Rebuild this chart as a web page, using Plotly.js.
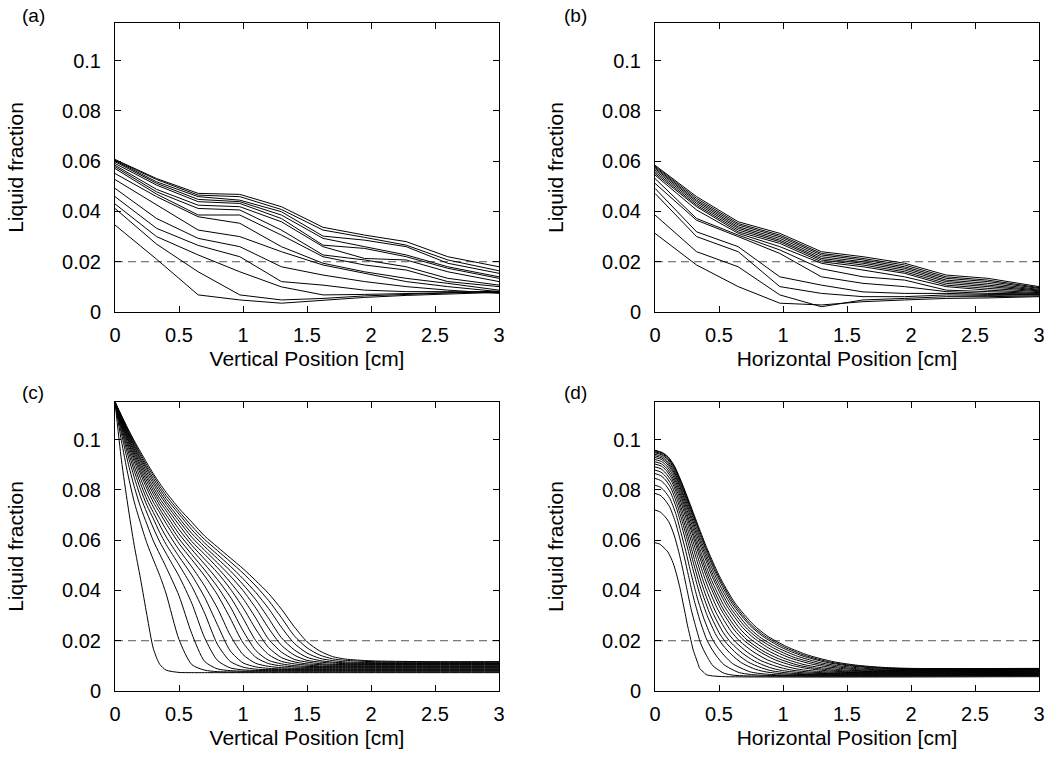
<!DOCTYPE html>
<html>
<head>
<meta charset="utf-8">
<script src="https://cdn.plot.ly/plotly-3.0.1.min.js"></script>
<style>html,body{margin:0;padding:0;background:#fff}#chart{width:1053px;height:763px}</style>
</head>
<body>
<div id="chart"></div>
<script>
// ---------- data ----------
var PANEL_LABELS = ['(a)', '(b)', '(c)', '(d)'];
var X_TITLES = ['Vertical Position [cm]', 'Horizontal Position [cm]', 'Vertical Position [cm]', 'Horizontal Position [cm]'];
var Y_TITLE = 'Liquid fraction';
var X_TICKS = [0, 0.5, 1, 1.5, 2, 2.5, 3];
var X_TICK_LABELS = ['0', '0.5', '1', '1.5', '2', '2.5', '3'];
var Y_TICKS = [0, 0.02, 0.04, 0.06, 0.08, 0.1];
var Y_TICK_LABELS = ['0', '0.02', '0.04', '0.06', '0.08', '0.1'];
var THRESHOLD = 0.02;

// measured profiles (a) vertical, (b) horizontal
var X_AB = [0, 0.325, 0.65, 0.975, 1.3, 1.625, 1.95, 2.275, 2.6, 3.0];
var A1 = [0.0607, 0.0531, 0.0472, 0.0468, 0.0419, 0.0337, 0.0306, 0.0280, 0.0220, 0.0180];
var A2 = [0.0604, 0.0527, 0.0465, 0.0459, 0.0408, 0.0326, 0.0297, 0.0266, 0.0207, 0.0164];
var A3 = [0.0602, 0.0518, 0.0459, 0.0445, 0.0399, 0.0302, 0.0286, 0.0260, 0.0194, 0.0154];
var A4 = [0.0598, 0.0512, 0.0448, 0.0439, 0.0386, 0.0293, 0.0260, 0.0227, 0.0180, 0.0140];
var A5 = [0.0591, 0.0505, 0.0439, 0.0432, 0.0372, 0.0266, 0.0253, 0.0220, 0.0174, 0.0134];
var A6 = [0.0584, 0.0488, 0.0425, 0.0419, 0.0359, 0.0260, 0.0213, 0.0207, 0.0160, 0.0121];
var A7 = [0.0578, 0.0478, 0.0412, 0.0406, 0.0326, 0.0227, 0.0207, 0.0180, 0.0134, 0.0107];
var A8 = [0.0571, 0.0469, 0.0386, 0.0386, 0.0306, 0.0220, 0.0187, 0.0167, 0.0121, 0.0101];
var A9 = [0.0551, 0.0459, 0.0379, 0.0353, 0.0260, 0.0194, 0.0160, 0.0134, 0.0114, 0.0087];
var A10 = [0.0527, 0.0425, 0.0326, 0.0300, 0.0240, 0.0187, 0.0154, 0.0121, 0.0101, 0.0081];
var A11 = [0.0492, 0.0372, 0.0293, 0.0260, 0.0180, 0.0147, 0.0121, 0.0101, 0.0087, 0.0074];
var A12 = [0.0459, 0.0333, 0.0265, 0.0220, 0.0121, 0.0107, 0.0087, 0.0081, 0.0081, 0.0079];
var A13 = [0.0430, 0.0300, 0.0227, 0.0160, 0.0100, 0.0068, 0.0070, 0.0074, 0.0077, 0.0081];
var A14 = [0.0412, 0.0270, 0.0160, 0.0068, 0.0048, 0.0054, 0.0064, 0.0070, 0.0075, 0.0083];
var A15 = [0.0346, 0.0210, 0.0068, 0.0048, 0.0035, 0.0048, 0.0058, 0.0066, 0.0072, 0.0078];

var B1 = [0.0584, 0.0459, 0.0359, 0.0313, 0.0240, 0.0220, 0.0194, 0.0147, 0.0134, 0.0101];
var B2 = [0.0580, 0.0452, 0.0352, 0.0306, 0.0233, 0.0213, 0.0187, 0.0140, 0.0127, 0.0097];
var B3 = [0.0576, 0.0445, 0.0346, 0.0300, 0.0227, 0.0207, 0.0180, 0.0134, 0.0121, 0.0094];
var B4 = [0.0571, 0.0439, 0.0339, 0.0293, 0.0220, 0.0200, 0.0174, 0.0127, 0.0114, 0.0090];
var B5 = [0.0565, 0.0432, 0.0333, 0.0286, 0.0213, 0.0194, 0.0167, 0.0121, 0.0107, 0.0087];
var B6 = [0.0558, 0.0425, 0.0326, 0.0280, 0.0207, 0.0187, 0.0160, 0.0114, 0.0101, 0.0084];
var B7 = [0.0551, 0.0419, 0.0319, 0.0273, 0.0200, 0.0180, 0.0154, 0.0107, 0.0094, 0.0081];
var B8 = [0.0545, 0.0406, 0.0313, 0.0260, 0.0194, 0.0167, 0.0140, 0.0101, 0.0087, 0.0077];
var B9 = [0.0531, 0.0372, 0.0306, 0.0247, 0.0172, 0.0140, 0.0127, 0.0087, 0.0081, 0.0074];
var B10 = [0.0512, 0.0365, 0.0300, 0.0233, 0.0140, 0.0114, 0.0101, 0.0081, 0.0074, 0.0072];
var B11 = [0.0492, 0.0319, 0.0260, 0.0140, 0.0107, 0.0080, 0.0074, 0.0074, 0.0070, 0.0070];
var B12 = [0.0472, 0.0300, 0.0240, 0.0101, 0.0074, 0.0061, 0.0061, 0.0068, 0.0066, 0.0068];
var B13 = [0.0386, 0.0240, 0.0180, 0.0068, 0.0021, 0.0048, 0.0054, 0.0061, 0.0061, 0.0064];
var B14 = [0.0313, 0.0187, 0.0101, 0.0035, 0.0028, 0.0041, 0.0048, 0.0054, 0.0056, 0.0061];

// simulated profiles (c) vertical
var X_C = [0, 0.05, 0.1, 0.15, 0.2, 0.25, 0.3, 0.35, 0.4, 0.5, 0.6, 0.7, 0.8, 0.9, 1.0, 1.1, 1.2, 1.3, 1.4, 1.5, 1.6, 1.7, 1.8, 2.0, 2.4, 3.0];
var C1 = [0.115, 0.092, 0.074, 0.058, 0.0445, 0.030, 0.0168, 0.0106, 0.0083, 0.0074, 0.0073, 0.0073, 0.0073, 0.0073, 0.0073, 0.0073, 0.0073, 0.0073, 0.0073, 0.0073, 0.0073, 0.0073, 0.0073, 0.0073, 0.0073, 0.0073];
var C2 = [0.115, 0.0996, 0.0864, 0.0753, 0.0667, 0.0587, 0.0522, 0.0459, 0.0386, 0.0205, 0.0105, 0.0083, 0.0077, 0.0076, 0.0076, 0.0076, 0.0076, 0.0076, 0.0076, 0.0076, 0.0076, 0.0076, 0.0076, 0.0076, 0.0076, 0.0076];
var C3 = [0.115, 0.1025, 0.0912, 0.0814, 0.0731, 0.0663, 0.0597, 0.0544, 0.0492, 0.0379, 0.0228, 0.0118, 0.0088, 0.0081, 0.0079, 0.0079, 0.0079, 0.0079, 0.0079, 0.0079, 0.0079, 0.0079, 0.0079, 0.0079, 0.0079, 0.0079];
var C4 = [0.115, 0.1040, 0.0940, 0.0851, 0.0772, 0.0708, 0.0648, 0.0593, 0.0547, 0.0457, 0.0349, 0.0212, 0.0122, 0.0092, 0.0084, 0.0082, 0.0082, 0.0082, 0.0082, 0.0082, 0.0082, 0.0082, 0.0082, 0.0082, 0.0082, 0.0082];
var C5 = [0.115, 0.1051, 0.0959, 0.0876, 0.0802, 0.0738, 0.0685, 0.0630, 0.0583, 0.0502, 0.0416, 0.0310, 0.0186, 0.0118, 0.0095, 0.0087, 0.0085, 0.0085, 0.0085, 0.0085, 0.0085, 0.0085, 0.0085, 0.0085, 0.0085, 0.0085];
var C6 = [0.115, 0.1059, 0.0974, 0.0895, 0.0825, 0.0761, 0.0710, 0.0660, 0.0613, 0.0535, 0.0461, 0.0373, 0.0264, 0.0160, 0.0112, 0.0096, 0.0090, 0.0088, 0.0088, 0.0088, 0.0088, 0.0088, 0.0088, 0.0088, 0.0088, 0.0088];
var C7 = [0.115, 0.1064, 0.0985, 0.0913, 0.0845, 0.0783, 0.0732, 0.0686, 0.0641, 0.0562, 0.0494, 0.0418, 0.0330, 0.0222, 0.0145, 0.0110, 0.0098, 0.0093, 0.0091, 0.0091, 0.0091, 0.0091, 0.0091, 0.0091, 0.0091, 0.0091];
var C8 = [0.115, 0.1070, 0.0996, 0.0926, 0.0863, 0.0804, 0.0751, 0.0709, 0.0666, 0.0587, 0.0523, 0.0458, 0.0383, 0.0290, 0.0192, 0.0134, 0.0109, 0.0100, 0.0096, 0.0094, 0.0094, 0.0094, 0.0094, 0.0094, 0.0094, 0.0094];
var C9 = [0.115, 0.1074, 0.1003, 0.0937, 0.0876, 0.0819, 0.0768, 0.0724, 0.0684, 0.0606, 0.0543, 0.0482, 0.0415, 0.0336, 0.0240, 0.0161, 0.0122, 0.0108, 0.0101, 0.0098, 0.0097, 0.0097, 0.0097, 0.0097, 0.0097, 0.0097];
var C10 = [0.115, 0.1078, 0.1010, 0.0947, 0.0888, 0.0833, 0.0784, 0.0739, 0.0701, 0.0625, 0.0563, 0.0505, 0.0444, 0.0375, 0.0290, 0.0200, 0.0145, 0.0118, 0.0108, 0.0103, 0.0100, 0.0100, 0.0100, 0.0100, 0.0100, 0.0100];
var C11 = [0.115, 0.1081, 0.1017, 0.0956, 0.0899, 0.0846, 0.0797, 0.0753, 0.0717, 0.0643, 0.0580, 0.0525, 0.0471, 0.0407, 0.0332, 0.0246, 0.0173, 0.0133, 0.0116, 0.0108, 0.0105, 0.0103, 0.0103, 0.0103, 0.0103, 0.0103];
var C12 = [0.115, 0.1084, 0.1023, 0.0964, 0.0910, 0.0857, 0.0810, 0.0766, 0.0730, 0.0661, 0.0595, 0.0544, 0.0491, 0.0433, 0.0368, 0.0290, 0.0206, 0.0155, 0.0126, 0.0115, 0.0109, 0.0106, 0.0105, 0.0105, 0.0105, 0.0105];
var C13 = [0.115, 0.1087, 0.1028, 0.0972, 0.0919, 0.0869, 0.0823, 0.0780, 0.0743, 0.0676, 0.0612, 0.0560, 0.0510, 0.0458, 0.0400, 0.0330, 0.0250, 0.0182, 0.0143, 0.0122, 0.0115, 0.0111, 0.0109, 0.0108, 0.0108, 0.0108];
var C14 = [0.115, 0.1090, 0.1032, 0.0978, 0.0926, 0.0880, 0.0834, 0.0792, 0.0754, 0.0689, 0.0627, 0.0575, 0.0527, 0.0479, 0.0424, 0.0363, 0.0289, 0.0212, 0.0164, 0.0134, 0.0121, 0.0115, 0.0112, 0.0110, 0.0110, 0.0110];
var C15 = [0.115, 0.1093, 0.1037, 0.0985, 0.0935, 0.0888, 0.0845, 0.0804, 0.0766, 0.0704, 0.0642, 0.0589, 0.0543, 0.0497, 0.0447, 0.0392, 0.0328, 0.0254, 0.0190, 0.0151, 0.0130, 0.0121, 0.0116, 0.0113, 0.0112, 0.0112];
var C16 = [0.115, 0.1095, 0.1041, 0.0991, 0.0943, 0.0897, 0.0856, 0.0815, 0.0778, 0.0715, 0.0656, 0.0603, 0.0559, 0.0515, 0.0469, 0.0418, 0.0360, 0.0292, 0.0220, 0.0172, 0.0143, 0.0128, 0.0122, 0.0117, 0.0115, 0.0115];
var C17 = [0.115, 0.1097, 0.1045, 0.0996, 0.0951, 0.0907, 0.0864, 0.0826, 0.0790, 0.0727, 0.0672, 0.0617, 0.0573, 0.0530, 0.0487, 0.0439, 0.0388, 0.0326, 0.0256, 0.0196, 0.0159, 0.0137, 0.0127, 0.0120, 0.0117, 0.0117];

// simulated profiles (d) horizontal: one x/y pair of arrays per curve
var D1X = [0, 0.035, 0.062, 0.101, 0.141, 0.172, 0.198, 0.219, 0.240, 0.250, 0.274, 0.298, 0.316, 0.335, 0.350, 0.384, 0.400, 0.450, 0.550, 3];
var D1Y = [0.0590, 0.0585, 0.0574, 0.0553, 0.0510, 0.0457, 0.0403, 0.0350, 0.0297, 0.0270, 0.0217, 0.0164, 0.0137, 0.0110, 0.0089, 0.0073, 0.0065, 0.0060, 0.0057, 0.0057];
var D2X = [0, 0.038, 0.067, 0.107, 0.149, 0.185, 0.215, 0.242, 0.269, 0.283, 0.317, 0.355, 0.384, 0.419, 0.453, 0.507, 0.542, 0.611, 0.726, 3];
var D2Y = [0.0720, 0.0713, 0.0700, 0.0674, 0.0621, 0.0555, 0.0489, 0.0423, 0.0357, 0.0324, 0.0258, 0.0192, 0.0159, 0.0126, 0.0100, 0.0080, 0.0070, 0.0063, 0.0060, 0.0060];
var D3X = [0, 0.040, 0.071, 0.112, 0.156, 0.195, 0.229, 0.261, 0.293, 0.311, 0.352, 0.402, 0.439, 0.488, 0.538, 0.609, 0.659, 0.744, 0.871, 3];
var D3Y = [0.0786, 0.0779, 0.0764, 0.0735, 0.0677, 0.0605, 0.0533, 0.0460, 0.0388, 0.0352, 0.0279, 0.0207, 0.0171, 0.0134, 0.0105, 0.0084, 0.0073, 0.0066, 0.0062, 0.0062];
var D4X = [0, 0.042, 0.074, 0.116, 0.162, 0.203, 0.241, 0.276, 0.313, 0.333, 0.380, 0.440, 0.484, 0.543, 0.606, 0.690, 0.752, 0.850, 0.987, 3];
var D4Y = [0.0819, 0.0811, 0.0796, 0.0766, 0.0706, 0.0630, 0.0555, 0.0479, 0.0404, 0.0366, 0.0291, 0.0215, 0.0177, 0.0140, 0.0109, 0.0087, 0.0075, 0.0068, 0.0064, 0.0064];
var D5X = [0, 0.043, 0.077, 0.120, 0.167, 0.212, 0.252, 0.291, 0.332, 0.354, 0.408, 0.478, 0.529, 0.599, 0.674, 0.771, 0.846, 0.957, 1.103, 3];
var D5Y = [0.0846, 0.0838, 0.0823, 0.0791, 0.0729, 0.0651, 0.0573, 0.0495, 0.0417, 0.0378, 0.0300, 0.0222, 0.0183, 0.0144, 0.0113, 0.0089, 0.0078, 0.0070, 0.0066, 0.0066];
var D6X = [0, 0.045, 0.080, 0.123, 0.171, 0.218, 0.261, 0.302, 0.346, 0.371, 0.429, 0.506, 0.562, 0.640, 0.725, 0.832, 0.916, 1.037, 1.190, 3];
var D6Y = [0.0865, 0.0857, 0.0841, 0.0809, 0.0745, 0.0666, 0.0586, 0.0506, 0.0427, 0.0387, 0.0307, 0.0227, 0.0188, 0.0148, 0.0116, 0.0092, 0.0080, 0.0072, 0.0068, 0.0068];
var D7X = [0, 0.046, 0.082, 0.126, 0.176, 0.224, 0.269, 0.313, 0.361, 0.387, 0.450, 0.534, 0.596, 0.682, 0.776, 0.893, 0.986, 1.117, 1.277, 3];
var D7Y = [0.0879, 0.0871, 0.0855, 0.0822, 0.0758, 0.0677, 0.0596, 0.0515, 0.0434, 0.0394, 0.0313, 0.0232, 0.0191, 0.0151, 0.0119, 0.0094, 0.0082, 0.0074, 0.0070, 0.0070];
var D8X = [0, 0.047, 0.084, 0.129, 0.180, 0.230, 0.278, 0.325, 0.375, 0.404, 0.471, 0.562, 0.629, 0.723, 0.827, 0.954, 1.056, 1.196, 1.364, 3];
var D8Y = [0.0892, 0.0884, 0.0867, 0.0835, 0.0769, 0.0687, 0.0605, 0.0523, 0.0441, 0.0400, 0.0318, 0.0236, 0.0195, 0.0154, 0.0121, 0.0097, 0.0084, 0.0076, 0.0072, 0.0072];
var D9X = [0, 0.049, 0.087, 0.131, 0.184, 0.237, 0.286, 0.336, 0.390, 0.420, 0.492, 0.591, 0.663, 0.765, 0.878, 1.015, 1.127, 1.276, 1.451, 3];
var D9Y = [0.0903, 0.0895, 0.0878, 0.0845, 0.0779, 0.0696, 0.0613, 0.0530, 0.0447, 0.0406, 0.0323, 0.0240, 0.0198, 0.0157, 0.0124, 0.0099, 0.0086, 0.0078, 0.0074, 0.0074];
var D10X = [0, 0.050, 0.089, 0.134, 0.188, 0.243, 0.295, 0.347, 0.404, 0.437, 0.513, 0.619, 0.696, 0.806, 0.929, 1.076, 1.197, 1.356, 1.538, 3];
var D10Y = [0.0912, 0.0904, 0.0887, 0.0853, 0.0787, 0.0703, 0.0619, 0.0536, 0.0452, 0.0410, 0.0327, 0.0243, 0.0201, 0.0160, 0.0126, 0.0101, 0.0089, 0.0080, 0.0076, 0.0076];
var D11X = [0, 0.051, 0.091, 0.136, 0.191, 0.247, 0.300, 0.355, 0.414, 0.448, 0.527, 0.638, 0.718, 0.834, 0.963, 1.117, 1.244, 1.409, 1.596, 3];
var D11Y = [0.0921, 0.0913, 0.0896, 0.0862, 0.0795, 0.0710, 0.0626, 0.0542, 0.0457, 0.0415, 0.0331, 0.0247, 0.0204, 0.0162, 0.0129, 0.0103, 0.0091, 0.0082, 0.0078, 0.0078];
var D12X = [0, 0.052, 0.093, 0.139, 0.194, 0.252, 0.307, 0.363, 0.425, 0.460, 0.544, 0.660, 0.745, 0.867, 1.003, 1.164, 1.299, 1.471, 1.664, 3];
var D12Y = [0.0929, 0.0921, 0.0904, 0.0870, 0.0802, 0.0717, 0.0632, 0.0547, 0.0462, 0.0420, 0.0335, 0.0250, 0.0207, 0.0165, 0.0131, 0.0105, 0.0093, 0.0084, 0.0080, 0.0080];
var D13X = [0, 0.053, 0.095, 0.141, 0.198, 0.257, 0.314, 0.373, 0.438, 0.475, 0.562, 0.684, 0.774, 0.902, 1.047, 1.217, 1.359, 1.541, 1.739, 3];
var D13Y = [0.0936, 0.0927, 0.0910, 0.0876, 0.0808, 0.0723, 0.0637, 0.0552, 0.0466, 0.0424, 0.0338, 0.0253, 0.0210, 0.0167, 0.0133, 0.0108, 0.0095, 0.0086, 0.0082, 0.0082];
var D14X = [0, 0.054, 0.096, 0.143, 0.200, 0.261, 0.320, 0.381, 0.447, 0.486, 0.576, 0.703, 0.796, 0.930, 1.081, 1.258, 1.406, 1.594, 1.797, 3];
var D14Y = [0.0942, 0.0933, 0.0916, 0.0882, 0.0813, 0.0728, 0.0642, 0.0556, 0.0470, 0.0427, 0.0341, 0.0256, 0.0213, 0.0170, 0.0135, 0.0110, 0.0097, 0.0088, 0.0084, 0.0084];
var D15X = [0, 0.055, 0.098, 0.145, 0.203, 0.266, 0.326, 0.388, 0.457, 0.497, 0.590, 0.722, 0.818, 0.958, 1.115, 1.298, 1.453, 1.647, 1.855, 3];
var D15Y = [0.0948, 0.0939, 0.0922, 0.0888, 0.0819, 0.0733, 0.0646, 0.0560, 0.0474, 0.0431, 0.0345, 0.0258, 0.0215, 0.0172, 0.0138, 0.0112, 0.0099, 0.0090, 0.0086, 0.0086];
var D16X = [0, 0.056, 0.100, 0.147, 0.206, 0.270, 0.332, 0.396, 0.467, 0.508, 0.604, 0.741, 0.841, 0.986, 1.149, 1.339, 1.500, 1.700, 1.913, 3];
var D16Y = [0.0952, 0.0943, 0.0926, 0.0892, 0.0822, 0.0736, 0.0650, 0.0563, 0.0477, 0.0434, 0.0347, 0.0261, 0.0218, 0.0174, 0.0140, 0.0114, 0.0101, 0.0092, 0.0088, 0.0088];
var D17X = [0, 0.056, 0.101, 0.149, 0.208, 0.273, 0.336, 0.401, 0.474, 0.516, 0.614, 0.754, 0.857, 1.006, 1.174, 1.369, 1.534, 1.739, 1.955, 3];
var D17Y = [0.0956, 0.0947, 0.0930, 0.0895, 0.0826, 0.0739, 0.0653, 0.0566, 0.0479, 0.0436, 0.0349, 0.0262, 0.0219, 0.0176, 0.0141, 0.0115, 0.0102, 0.0093, 0.0089, 0.0089];
var D18X = [0, 0.057, 0.102, 0.150, 0.210, 0.276, 0.340, 0.407, 0.481, 0.524, 0.625, 0.769, 0.874, 1.027, 1.200, 1.400, 1.570, 1.780, 2.000, 3];
var D18Y = [0.0958, 0.0949, 0.0932, 0.0897, 0.0828, 0.0741, 0.0654, 0.0567, 0.0481, 0.0437, 0.0350, 0.0264, 0.0220, 0.0177, 0.0142, 0.0116, 0.0103, 0.0094, 0.0090, 0.0090];

var SERIES_A = [A1, A2, A3, A4, A5, A6, A7, A8, A9, A10, A11, A12, A13, A14, A15];
var SERIES_B = [B1, B2, B3, B4, B5, B6, B7, B8, B9, B10, B11, B12, B13, B14];
var SERIES_C = [C1, C2, C3, C4, C5, C6, C7, C8, C9, C10, C11, C12, C13, C14, C15, C16, C17];
var SERIES_D = [[D1X, D1Y], [D2X, D2Y], [D3X, D3Y], [D4X, D4Y], [D5X, D5Y], [D6X, D6Y], [D7X, D7Y], [D8X, D8Y], [D9X, D9Y],
  [D10X, D10Y], [D11X, D11Y], [D12X, D12Y], [D13X, D13Y], [D14X, D14Y], [D15X, D15Y], [D16X, D16Y], [D17X, D17Y], [D18X, D18Y]];

// ---------- build ----------
var FONT = 'Liberation Sans, Arial, Helvetica, sans-serif';
var traces = [];
function pushThreshold(xa, ya) {
  traces.push({
    x: [0, 3], y: [THRESHOLD, THRESHOLD], xaxis: xa, yaxis: ya,
    mode: 'lines', line: {color: '#555', width: 1, dash: '8px,5px'},
    hoverinfo: 'skip', showlegend: false
  });
}
function pushLine(xs, ys, xa, ya, shape) {
  traces.push({
    x: xs, y: ys, xaxis: xa, yaxis: ya, mode: 'lines',
    line: {color: '#000', width: 1, shape: shape, smoothing: 0.7},
    showlegend: false, hoverinfo: 'skip'
  });
}
pushThreshold('x', 'y');
SERIES_A.forEach(function (ys) { pushLine(X_AB, ys, 'x', 'y', 'linear'); });
pushThreshold('x2', 'y2');
SERIES_B.forEach(function (ys) { pushLine(X_AB, ys, 'x2', 'y2', 'linear'); });
pushThreshold('x3', 'y3');
SERIES_C.forEach(function (ys) { pushLine(X_C, ys, 'x3', 'y3', 'spline'); });
pushThreshold('x4', 'y4');
SERIES_D.forEach(function (s) { pushLine(s[0], s[1], 'x4', 'y4', 'spline'); });

function xAxis(domain, title, anchor) {
  return {
    domain: domain, anchor: anchor, range: [0, 3],
    tickvals: X_TICKS, ticktext: X_TICK_LABELS,
    ticks: 'inside', ticklen: 6, tickwidth: 1, tickcolor: '#000',
    showline: true, linecolor: '#000', linewidth: 1, mirror: 'ticks',
    showgrid: false, zeroline: false,
    tickfont: {family: FONT, size: 20, color: '#000'},
    ticklabelstandoff: 5,
    title: {text: title, font: {family: FONT, size: 21, color: '#000'}, standoff: 6}
  };
}
function yAxis(domain, anchor) {
  return {
    domain: domain, anchor: anchor, range: [0, 0.115],
    tickvals: Y_TICKS, ticktext: Y_TICK_LABELS,
    ticks: 'inside', ticklen: 6, tickwidth: 1, tickcolor: '#000',
    showline: true, linecolor: '#000', linewidth: 1, mirror: 'ticks',
    showgrid: false, zeroline: false,
    tickfont: {family: FONT, size: 20, color: '#000'},
    ticklabelstandoff: 9,
    title: {text: Y_TITLE, font: {family: FONT, size: 21, color: '#000'}, standoff: 32}
  };
}

var W = 1053, H = 763;
var XL = [115 / W, 499 / W], XR = [655 / W, 1039 / W];
var YT = [1 - 312 / H, 1 - 23 / H], YB = [1 - 691 / H, 1 - 402 / H];

var layout = {
  width: W, height: H,
  margin: {l: 0, r: 0, t: 0, b: 0},
  paper_bgcolor: '#fff', plot_bgcolor: '#fff',
  showlegend: false,
  xaxis: xAxis(XL, X_TITLES[0], 'y'),
  yaxis: yAxis(YT, 'x'),
  xaxis2: xAxis(XR, X_TITLES[1], 'y2'),
  yaxis2: yAxis(YT, 'x2'),
  xaxis3: xAxis(XL, X_TITLES[2], 'y3'),
  yaxis3: yAxis(YB, 'x3'),
  xaxis4: xAxis(XR, X_TITLES[3], 'y4'),
  yaxis4: yAxis(YB, 'x4'),
  annotations: [
    {text: PANEL_LABELS[0], x: 20 / W, y: 1 - 15 / H},
    {text: PANEL_LABELS[1], x: 562 / W, y: 1 - 15 / H},
    {text: PANEL_LABELS[2], x: 20 / W, y: 1 - 392 / H},
    {text: PANEL_LABELS[3], x: 562 / W, y: 1 - 392 / H}
  ].map(function (a) {
    return {text: a.text, x: a.x, y: a.y, xref: 'paper', yref: 'paper',
      xanchor: 'left', yanchor: 'middle', showarrow: false,
      font: {family: FONT, size: 19, color: '#000'}};
  })
};

Plotly.newPlot('chart', traces, layout, {staticPlot: true, displayModeBar: false});
</script>
</body>
</html>
